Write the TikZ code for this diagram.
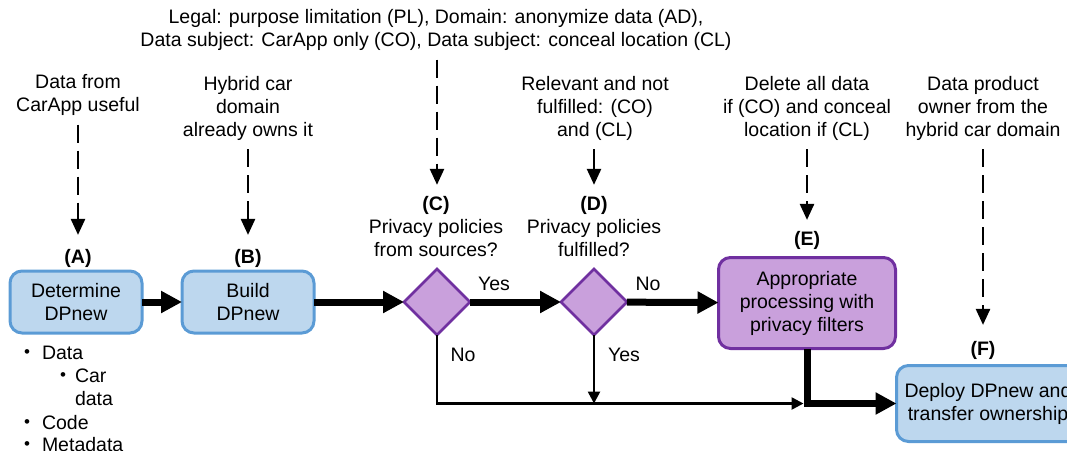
\documentclass[tikz,border=0pt]{standalone}
\usepackage{fontspec}
\setmainfont{Liberation Sans}
\usetikzlibrary{arrows.meta,shapes.geometric}
\definecolor{bfill}{HTML}{BDD7EE}
\definecolor{bdraw}{HTML}{5B9BD5}
\definecolor{pfill}{HTML}{C9A0DC}
\definecolor{pdraw}{HTML}{7030A0}
\begin{document}
\begin{tikzpicture}[x=1pt,y=-1pt,
  every node/.style={inner sep=0pt, outer sep=0pt, align=center},
  font=\fontsize{19.5}{23}\selectfont,
  bluebox/.style={draw=bdraw, fill=bfill, line width=3pt, rounded corners=12pt,
    minimum width=132pt, minimum height=62pt},
  purplebox/.style={draw=pdraw, fill=pfill, line width=3pt, rounded corners=12pt},
  decision/.style={diamond, aspect=1, draw=pdraw, fill=pfill, line width=2.5pt,
    minimum width=66pt, minimum height=66pt},
  thickarrow/.style={line width=7pt, -{Triangle[length=21pt,width=21pt]}},
  thinarrow/.style={line width=2.5pt, -{Triangle[length=12pt,width=12pt]}},
  dasharrow/.style={line width=2.5pt, dash pattern=on 18pt off 8pt,
    -{Triangle[length=16pt,width=14pt]}},
  solidarrow/.style={line width=2.5pt, -{Triangle[length=16pt,width=14pt]}},
  lbl/.style={font=\fontsize{19.5}{23}\selectfont\bfseries},
  item/.style={anchor=base west},
  bul/.style={font=\fontsize{17}{17}\selectfont}
]
\useasboundingbox (0,0) rectangle (1067,450);

% top texts
\node (tC) at (436,30) {Legal: purpose limitation (PL), Domain: anonymize data (AD),\\Data subject: CarApp only (CO), Data subject: conceal location (CL)};
\node (tA) at (78,95) {Data from\\CarApp useful};
\node (tB) at (248,108) {Hybrid car\\domain\\already owns it};
\node (tD) at (595,108) {Relevant and not\\fulfilled: (CO)\\and (CL)};
\node (tE) at (807,108) {Delete all data\\if (CO) and conceal\\location if (CL)};
\node (tF) at (983,108) {Data product\\owner from the\\hybrid car domain};

% labels
\node[lbl] (lA) at (78,258) {(A)};
\node[lbl] (lB) at (248,258) {(B)};
\node (lC) at (436,227) {\textbf{(C)}\\Privacy policies\\from sources?};
\node (lD) at (594,227) {\textbf{(D)}\\Privacy policies\\fulfilled?};
\node[lbl] (lE) at (807,240) {(E)};
\node[lbl] (lF) at (983,350) {(F)};

% boxes
\node[bluebox] (A) at (76,302) {Determine\\DPnew};
\node[bluebox] (B) at (248,302) {Build\\DPnew};
\node[decision] (C) at (437,302) {};
\node[decision] (D) at (594,302) {};
\node[purplebox, minimum width=177pt, minimum height=91pt] (E) at (807,303) {Appropriate\\processing with\\privacy filters};
\node[bluebox, minimum width=183pt, minimum height=76pt] (F) at (988,403.5) {Deploy DPnew and\\transfer ownership};

% bullet list
\node[bul] (b1) at (27,354) {•};
\node[item] (i1) at (42,359) {Data};
\node[bul] (b2) at (63,377) {•};
\node[item] (i2) at (75,382) {Car};
\node[item] (i3) at (75,405) {data};
\node[bul] (b4) at (27,424) {•};
\node[item] (i4) at (42,429) {Code};
\node[bul] (b5) at (27,446) {•};
\node[item] (i5) at (42,451) {Metadata};

% dashed/solid input arrows
\draw[dasharrow, shorten <=9pt, shorten >=14pt] (tA) -- (lA);
\draw[dasharrow, shorten <=9pt, shorten >=14pt] (tB) -- (lB);
\draw[dasharrow, shorten <=9pt, shorten >=12pt] (tC.south -| C) -- (lC.north -| C);
\draw[solidarrow, shorten <=9pt, shorten >=12pt] (tD.south -| D) -- (lD.north -| D);
\draw[dasharrow, shorten <=9pt, shorten >=11pt] (tE) -- (lE);
\draw[dasharrow, shorten <=9pt, shorten >=16pt] (tF) -- (lF);

% main flow
\draw[thickarrow] (A) -- (B);
\draw[thickarrow] (B) -- (C);
\draw[thickarrow] (C) -- (D);
\draw[thickarrow] (D) -- (E);
\node (y1) at (494,284) {Yes};
\node (n1) at (648,284) {No};
\node (n2) at (463,355) {No};
\node (y2) at (624,355) {Yes};

\coordinate (j) at (E.south |- F.west);
\draw[thinarrow, shorten >=3.5pt] (C.south) |- (j);
\draw[thinarrow] (D.south) -- (D.south |- j);
\draw[thickarrow] (E.south) |- (F.west);
\end{tikzpicture}
\end{document}
